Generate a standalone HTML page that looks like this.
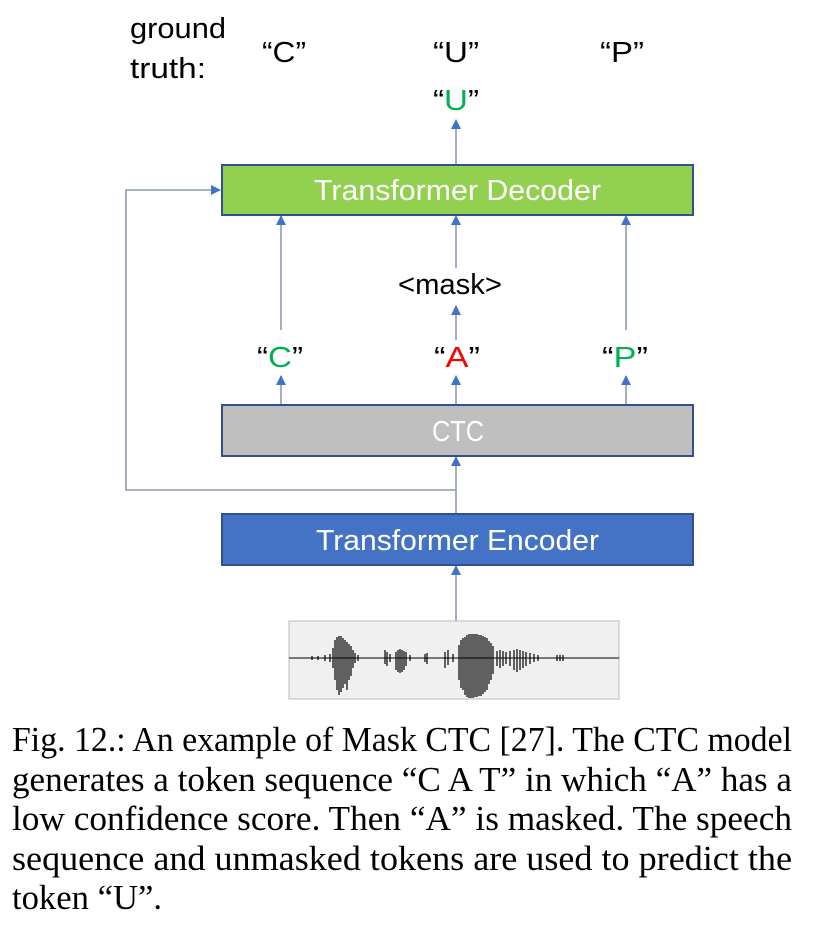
<!DOCTYPE html>
<html><head><meta charset="utf-8"><style>
html,body{margin:0;padding:0;background:#fff;}
svg{display:block;}
</style></head><body>
<svg width="815" height="939" viewBox="0 0 815 939" xmlns="http://www.w3.org/2000/svg">
<defs>
<marker id="ah" markerWidth="10" markerHeight="10" refX="9" refY="5" orient="auto" markerUnits="userSpaceOnUse">
<path d="M0,0 L10,5 L0,10 Z" fill="#4472c4"/>
</marker>
</defs>
<g font-family="Liberation Sans, sans-serif" font-size="29" fill="#000">
<text x="130" y="38" textLength="96" lengthAdjust="spacingAndGlyphs">ground</text>
<text x="130" y="78" textLength="76" lengthAdjust="spacingAndGlyphs">truth:</text>
<text x="262" y="62" textLength="44" lengthAdjust="spacingAndGlyphs">“C”</text>
<text x="433" y="62" textLength="46" lengthAdjust="spacingAndGlyphs">“U”</text>
<text x="600" y="62" textLength="44" lengthAdjust="spacingAndGlyphs">“P”</text>
<text x="433" y="110" textLength="46" lengthAdjust="spacingAndGlyphs">“<tspan fill="#00b050">U</tspan>”</text>
<text x="257" y="367" textLength="46" lengthAdjust="spacingAndGlyphs">“<tspan fill="#00b050">C</tspan>”</text>
<text x="434" y="367" textLength="46" lengthAdjust="spacingAndGlyphs">“<tspan fill="#ff0000">A</tspan>”</text>
<text x="602" y="367" textLength="46" lengthAdjust="spacingAndGlyphs">“<tspan fill="#00b050">P</tspan>”</text>
<text x="398" y="294" textLength="104" lengthAdjust="spacingAndGlyphs">&lt;mask&gt;</text>
</g>
<g stroke="#8c9bb0" stroke-width="1.6" fill="none">
<line x1="456" y1="164" x2="456" y2="120" marker-end="url(#ah)"/>
<line x1="281" y1="330" x2="281" y2="216" marker-end="url(#ah)"/>
<line x1="626" y1="330" x2="626" y2="216" marker-end="url(#ah)"/>
<line x1="456" y1="268" x2="456" y2="216" marker-end="url(#ah)"/>
<line x1="456" y1="340" x2="456" y2="306" marker-end="url(#ah)"/>
<line x1="281" y1="405" x2="281" y2="376" marker-end="url(#ah)"/>
<line x1="456" y1="405" x2="456" y2="376" marker-end="url(#ah)"/>
<line x1="626" y1="405" x2="626" y2="376" marker-end="url(#ah)"/>
<line x1="456" y1="514" x2="456" y2="457" marker-end="url(#ah)"/>
<polyline points="456,490 126,490 126,190 220,190" marker-end="url(#ah)"/>
<line x1="456" y1="621" x2="456" y2="566" marker-end="url(#ah)"/>
</g>
<rect x="222" y="165" width="471" height="50" fill="#92d050" stroke="#2f528f" stroke-width="2"/>
<rect x="222" y="405" width="471" height="51" fill="#bfbfbf" stroke="#2f528f" stroke-width="2"/>
<rect x="222" y="514" width="471" height="51" fill="#4472c4" stroke="#2f528f" stroke-width="2"/>
<g font-family="Liberation Sans, sans-serif" font-size="29" fill="#fff">
<text x="314" y="200" textLength="287" lengthAdjust="spacingAndGlyphs">Transformer Decoder</text>
<text x="432" y="441" textLength="52" lengthAdjust="spacingAndGlyphs">CTC</text>
<text x="316" y="550" textLength="283" lengthAdjust="spacingAndGlyphs">Transformer Encoder</text>
</g>
<rect x="289" y="621" width="330" height="78" fill="#f0f0f0" stroke="#bbb" stroke-width="1"/>
<line x1="289" y1="658" x2="619" y2="658" stroke="#000" stroke-width="1"/>
<g stroke="#000" stroke-width="1.2">
<line x1="312" y1="656" x2="312" y2="660"/><line x1="318" y1="656" x2="318" y2="660"/><line x1="325" y1="655" x2="325" y2="661"/><line x1="330" y1="654" x2="330" y2="662"/>
<line x1="333" y1="648" x2="333" y2="668"/><line x1="335" y1="640" x2="335" y2="680"/><line x1="337" y1="637" x2="337" y2="690"/><line x1="339" y1="636" x2="339" y2="695"/><line x1="341" y1="636" x2="341" y2="692"/><line x1="343" y1="638" x2="343" y2="688"/><line x1="345" y1="640" x2="345" y2="684"/><line x1="347" y1="642" x2="347" y2="690"/><line x1="349" y1="644" x2="349" y2="680"/><line x1="351" y1="646" x2="351" y2="676"/><line x1="353" y1="650" x2="353" y2="668"/><line x1="355" y1="653" x2="355" y2="663"/><line x1="358" y1="655" x2="358" y2="661"/>
<line x1="385" y1="650" x2="385" y2="664"/><line x1="387" y1="652" x2="387" y2="666"/><line x1="390" y1="654" x2="390" y2="662"/><line x1="396" y1="652" x2="396" y2="670"/><line x1="398" y1="650" x2="398" y2="672"/><line x1="400" y1="649" x2="400" y2="673"/><line x1="402" y1="650" x2="402" y2="672"/><line x1="404" y1="651" x2="404" y2="670"/><line x1="406" y1="652" x2="406" y2="666"/><line x1="410" y1="655" x2="410" y2="661"/><line x1="425" y1="654" x2="425" y2="662"/><line x1="427" y1="653" x2="427" y2="664"/>
<line x1="445" y1="652" x2="445" y2="668"/><line x1="448" y1="650" x2="448" y2="665"/><line x1="453" y1="654" x2="453" y2="662"/>
<line x1="459" y1="645" x2="459" y2="680"/><line x1="461" y1="640" x2="461" y2="688"/><line x1="463" y1="638" x2="463" y2="690"/><line x1="465" y1="637" x2="465" y2="695"/><line x1="467" y1="635" x2="467" y2="697"/><line x1="469" y1="634" x2="469" y2="698"/><line x1="471" y1="634" x2="471" y2="698"/><line x1="473" y1="634" x2="473" y2="698"/><line x1="475" y1="634" x2="475" y2="697"/><line x1="477" y1="634" x2="477" y2="697"/><line x1="479" y1="635" x2="479" y2="696"/><line x1="481" y1="635" x2="481" y2="696"/><line x1="483" y1="636" x2="483" y2="694"/><line x1="485" y1="637" x2="485" y2="692"/><line x1="487" y1="638" x2="487" y2="690"/><line x1="489" y1="641" x2="489" y2="684"/><line x1="491" y1="643" x2="491" y2="680"/><line x1="493" y1="646" x2="493" y2="674"/>
<line x1="497" y1="651" x2="497" y2="666"/><line x1="500" y1="650" x2="500" y2="668"/><line x1="503" y1="651" x2="503" y2="666"/><line x1="506" y1="652" x2="506" y2="664"/><line x1="510" y1="651" x2="510" y2="666"/><line x1="514" y1="650" x2="514" y2="670"/><line x1="517" y1="649" x2="517" y2="672"/><line x1="520" y1="650" x2="520" y2="670"/><line x1="523" y1="651" x2="523" y2="668"/><line x1="526" y1="652" x2="526" y2="666"/><line x1="530" y1="653" x2="530" y2="664"/><line x1="534" y1="654" x2="534" y2="662"/><line x1="538" y1="655" x2="538" y2="661"/>
<line x1="557" y1="655" x2="557" y2="661"/><line x1="560" y1="655" x2="560" y2="661"/><line x1="563" y1="655" x2="563" y2="661"/>
</g>
<g font-family="Liberation Serif, serif" font-size="35" fill="#000">
<text x="12" y="751" textLength="780" lengthAdjust="spacingAndGlyphs">Fig. 12.: An example of Mask CTC [27]. The CTC model</text>
<text x="12" y="791" textLength="780" lengthAdjust="spacingAndGlyphs">generates a token sequence “C A T” in which “A” has a</text>
<text x="12" y="830" textLength="780" lengthAdjust="spacingAndGlyphs">low confidence score. Then “A” is masked. The speech</text>
<text x="12" y="870" textLength="780" lengthAdjust="spacingAndGlyphs">sequence and unmasked tokens are used to predict the</text>
<text x="12" y="909" textLength="150" lengthAdjust="spacingAndGlyphs">token “U”.</text>
</g>
</svg>
</body></html>
